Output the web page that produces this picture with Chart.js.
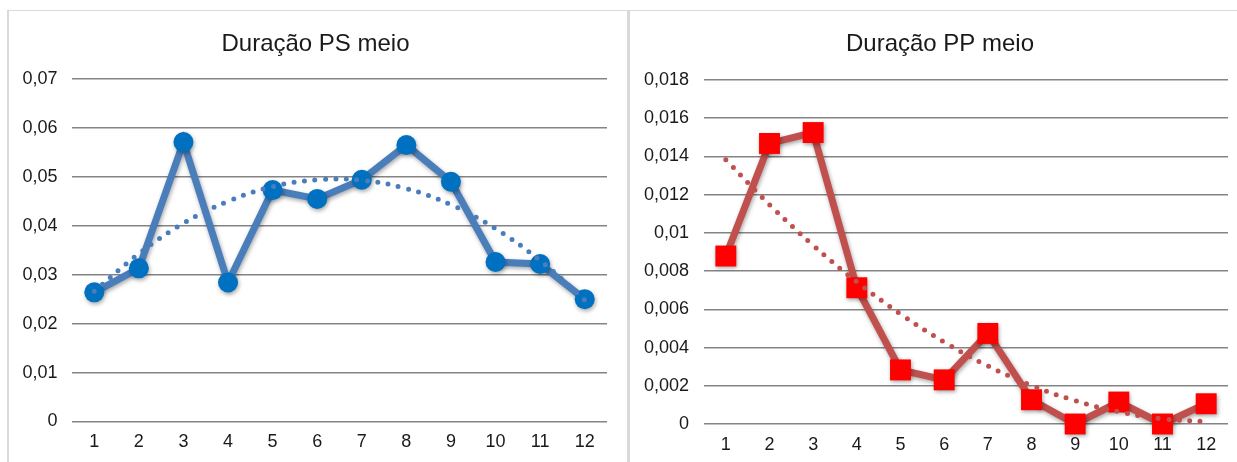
<!DOCTYPE html>
<html>
<head>
<meta charset="utf-8">
<script src="https://cdn.jsdelivr.net/npm/chart.js@4.4.1/dist/chart.umd.min.js"></script>
<style>
  body { margin:0; background:#fff; width:1237px; height:462px; overflow:hidden; position:relative; }
  .box { position:absolute; top:10px; height:470px; box-sizing:border-box; border:0 solid #d9d9d9; }
  #boxL { left:7px; width:622px; border-left-width:2px; border-top-width:1px; border-right-width:2px; }
  #boxR { left:629px; width:620px; border-left-width:1px; border-top-width:1px; }
  canvas { position:absolute; }
  #cPS { left:9px; top:11px; }
  #cPP { left:631px; top:11px; }
</style>
</head>
<body>
<div class="box" id="boxL"></div>
<div class="box" id="boxR"></div>
<canvas id="cPS" width="618" height="451"></canvas>
<canvas id="cPP" width="606" height="451"></canvas>
<script>
/* dados */
const categorias = ['1','2','3','4','5','6','7','8','9','10','11','12'];

const psMeio      = [0.0264, 0.0313, 0.0571, 0.0284, 0.0473, 0.0455, 0.0494, 0.0565, 0.0490, 0.0326, 0.0322, 0.0250];
const psTendencia = [0.0266, 0.0343, 0.0405, 0.0450, 0.0480, 0.0494, 0.0493, 0.0476, 0.0443, 0.0394, 0.0329, 0.0248];
const psTicks     = [0, 0.01, 0.02, 0.03, 0.04, 0.05, 0.06, 0.07];

const ppMeio      = [0.00879, 0.01468, 0.01525, 0.00713, 0.00283, 0.00231, 0.00474, 0.00127, 0, 0.00115, 0, 0.00106];
const ppTendencia = [0.01383, 0.01148, 0.00935, 0.00744, 0.00576, 0.00429, 0.00304, 0.00202, 0.00122, 0.00064, 0.00027, 0.00013];
const ppTicks     = [0, 0.002, 0.004, 0.006, 0.008, 0.01, 0.012, 0.014, 0.016, 0.018];

/* helpers */
const FONT = "'Liberation Sans', Arial, sans-serif";
const virgula = v => String(Number(v.toFixed(5))).replace('.', ',');

// sombra leve por baixo da série principal (como no Excel)
const sombra = {
  id: 'sombra',
  beforeDatasetDraw(chart, args) {
    if (args.index !== 1) return;
    const ctx = chart.ctx;
    ctx.save();
    ctx.shadowColor = 'rgba(0,0,0,0.35)';
    ctx.shadowBlur = 4;
    ctx.shadowOffsetX = 1;
    ctx.shadowOffsetY = 2;
  },
  afterDatasetDraw(chart, args) {
    if (args.index === 1) chart.ctx.restore();
  }
};

function grafico(id, cfg) {
  return new Chart(document.getElementById(id), {
    type: 'line',
    data: {
      labels: categorias,
      datasets: [
        {
          data: cfg.tendencia,
          borderColor: cfg.cor,
          borderWidth: 5,
          borderDash: [0, 10.5],
          borderCapStyle: 'round',
          tension: 0.4,
          pointRadius: 0,
          clip: false
        },
        {
          data: cfg.valores,
          borderColor: cfg.cor,
          borderWidth: 7,
          tension: 0,
          pointStyle: cfg.marcador,
          pointRadius: cfg.raio,
          pointBackgroundColor: cfg.corMarcador,
          pointBorderWidth: 0,
          clip: false
        }
      ]
    },
    options: {
      responsive: false,
      animation: false,
      events: [],
      layout: { autoPadding: false, padding: { left: cfg.padL, right: cfg.padR, top: 0, bottom: 0 } },
      plugins: {
        legend: { display: false },
        tooltip: { enabled: false },
        title: {
          display: true,
          text: cfg.titulo,
          color: '#1a1a1a',
          font: { family: FONT, size: 24, weight: 'normal' },
          padding: { top: 18.6, bottom: cfg.titPadB }
        }
      },
      scales: {
        x: {
          offset: true,
          grid: { display: false },
          border: { display: false },
          ticks: { color: '#1a1a1a', font: { family: FONT, size: 18 }, padding: 2, maxRotation: 0 },
          afterFit: s => {
            s.height = cfg.alturaX;
            s.paddingLeft = 0;
            s.paddingRight = 0;
          }
        },
        y: {
          min: 0,
          max: cfg.ticks[cfg.ticks.length - 1],
          grid: { color: '#848484', lineWidth: 1.6, drawTicks: false },
          border: { display: false },
          ticks: { color: '#1a1a1a', font: { family: FONT, size: 18 }, padding: cfg.padTick, callback: v => virgula(v) },
          afterBuildTicks: s => { s.ticks = cfg.ticks.map(v => ({ value: v })); },
          afterFit: s => {
            s.width = cfg.larguraY;
            s._computeLabelArea = () => undefined;   // não cortar os rótulos
          }
        }
      }
    },
    plugins: [sombra]
  });
}

grafico('cPS', {
  titulo: 'Duração PS meio',
  valores: psMeio, tendencia: psTendencia, ticks: psTicks,
  cor: '#4A7EBB', corMarcador: '#0070C0', marcador: 'circle', raio: 10,
  padL: 15, padR: 20, larguraY: 48, padTick: 14.5, alturaX: 40.5, titPadB: 20.6
});

grafico('cPP', {
  titulo: 'Duração PP meio',
  valores: ppMeio, tendencia: ppTendencia, ticks: ppTicks,
  cor: '#C0504D', corMarcador: '#FF0000', marcador: 'rect', raio: 14.8,
  padL: 21, padR: 9, larguraY: 52, padTick: 15, alturaX: 38, titPadB: 21.6
});
</script>
</body>
</html>
